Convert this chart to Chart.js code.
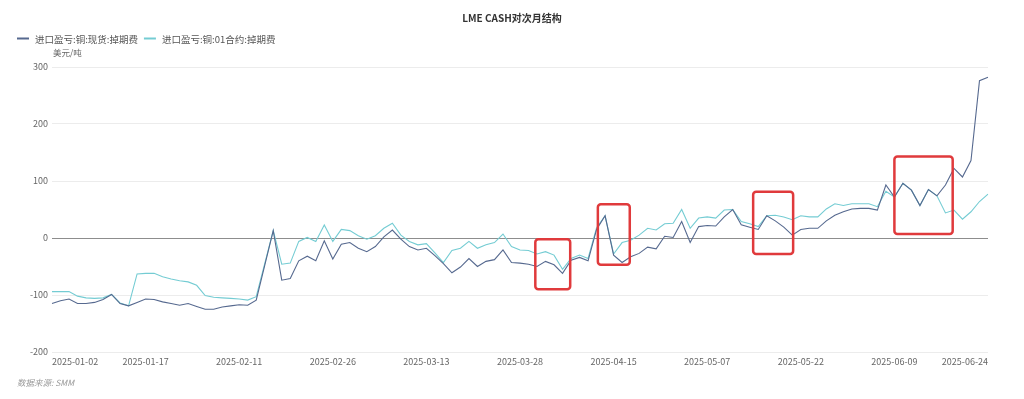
<!DOCTYPE html>
<html lang="zh">
  <head>
    <meta charset="utf-8" />
    <title>LME CASH对次月结构</title>
    <style>
      * {
        margin: 0;
        padding: 0;
      }
      body {
        background: #fff;
      }
      .chartBox {
        width: 1024px;
        height: 399px;
      }
    </style>
  </head>
  <body>
    <div class="chartBox">
      <canvas id="myChart"></canvas>
    </div>

    <script src="https://cdn.jsdelivr.net/npm/chart.js@4.4.1/dist/chart.umd.min.js"></script>

    <script>
      // data block
      const dates = [
        "2025-01-02", "2025-01-03", "2025-01-06", "2025-01-07", "2025-01-08", "2025-01-09", "2025-01-10",
        "2025-01-13", "2025-01-14", "2025-01-15", "2025-01-16", "2025-01-17", "2025-01-20", "2025-01-21",
        "2025-01-22", "2025-01-23", "2025-01-24", "2025-01-27", "2025-02-05", "2025-02-06", "2025-02-07",
        "2025-02-10", "2025-02-11", "2025-02-12", "2025-02-13", "2025-02-14", "2025-02-17", "2025-02-18",
        "2025-02-19", "2025-02-20", "2025-02-21", "2025-02-24", "2025-02-25", "2025-02-26", "2025-02-27",
        "2025-02-28", "2025-03-03", "2025-03-04", "2025-03-05", "2025-03-06", "2025-03-07", "2025-03-10",
        "2025-03-11", "2025-03-12", "2025-03-13", "2025-03-14", "2025-03-17", "2025-03-18", "2025-03-19",
        "2025-03-20", "2025-03-21", "2025-03-24", "2025-03-25", "2025-03-26", "2025-03-27", "2025-03-28",
        "2025-03-31", "2025-04-01", "2025-04-02", "2025-04-03", "2025-04-07", "2025-04-08", "2025-04-09",
        "2025-04-10", "2025-04-11", "2025-04-14", "2025-04-15", "2025-04-16", "2025-04-17", "2025-04-22",
        "2025-04-23", "2025-04-24", "2025-04-25", "2025-04-28", "2025-04-29", "2025-04-30", "2025-05-06",
        "2025-05-07", "2025-05-08", "2025-05-09", "2025-05-12", "2025-05-13", "2025-05-14", "2025-05-15",
        "2025-05-16", "2025-05-19", "2025-05-20", "2025-05-21", "2025-05-22", "2025-05-23", "2025-05-26",
        "2025-05-27", "2025-05-28", "2025-05-29", "2025-05-30", "2025-06-03", "2025-06-04", "2025-06-05",
        "2025-06-06", "2025-06-09", "2025-06-10", "2025-06-11", "2025-06-12", "2025-06-13", "2025-06-16",
        "2025-06-17", "2025-06-18", "2025-06-19", "2025-06-20", "2025-06-23", "2025-06-24",
      ];

      // 进口盈亏:铜:现货:掉期费
      const spotSwap = [
        -115, -110, -107, -115, -115, -113, -108, -99, -115, -119, -113, -107, -108, -112, -115, -118,
        -115, -120, -125, -125, -121, -119, -117, -118, -109, -48, 13, -74, -71, -40, -32, -40,
        -5, -37, -11, -8, -18, -24, -15, 2, 14, -2, -15, -21, -18, -31, -45, -61,
        -51, -36, -50, -41, -38, -21, -43, -44, -46, -50, -41, -47, -62, -39, -34, -40,
        15, 39, -30, -43, -33, -27, -16, -19, 3, 1, 29, -8, 20, 22, 21, 37,
        50, 23, 19, 15, 39, 30, 19, 5, 15, 17, 17, 30, 40, 46, 51, 52,
        52, 49, 93, 72, 96, 84, 57, 85, 74, 93, 122, 107, 136, 276, 282,
      ];

      // 进口盈亏:铜:01合约:掉期费
      const m01Swap = [
        -94, -94, -94, -102, -105, -106, -105, -99, -114, -119, -63, -62, -62, -68, -72, -75,
        -77, -83, -101, -104, -105, -106, -107, -109, -103, -45, 13, -46, -44, -6, 1, -6,
        23, -6, 15, 13, 4, -2, 4, 17, 26, 5, -6, -12, -10, -26, -43, -22,
        -18, -6, -18, -12, -8, 7, -15, -21, -22, -28, -24, -30, -55, -36, -30, -36,
        18, 39, -28, -8, -4, 5, 17, 14, 25, 26, 50, 17, 35, 37, 35, 49,
        50, 29, 25, 20, 39, 40, 37, 32, 39, 37, 37, 51, 60, 57, 60, 60,
        60, 55, 82, 72, 96, 84, 57, 85, 74, 44, 49, 33, 46, 64, 77,
      ];

      const seriesNames = ["进口盈亏:铜:现货:掉期费", "进口盈亏:铜:01合约:掉期费"];
      const seriesColors = ["#56698f", "#74ccd3"];

      // highlighted periods: [fromIndex, toIndex, topValue, bottomValue]
      const highlights = [
        [56.8, 60.9, -2, -90],
        [64.15, 67.9, 59, -47],
        [82.4, 87.1, 81, -28],
        [99.0, 105.85, 143, 7],
      ];

      const labelStep = 11;
      const fontFamily = "'Noto Sans CJK SC', 'Noto Sans', sans-serif";

      // overlay: title, legend, unit, x labels, source, red boxes
      const overlay = {
        id: "overlay",
        afterDraw(chart) {
          const { ctx, chartArea, scales } = chart;
          const x = scales.x;
          const y = scales.y;
          ctx.save();

          // title
          ctx.fillStyle = "#333";
          ctx.font = "bold 10px " + fontFamily;
          ctx.textAlign = "center";
          ctx.textBaseline = "middle";
          ctx.fillText("LME CASH对次月结构", 512, 18);

          // legend
          ctx.font = "9.5px " + fontFamily;
          ctx.textAlign = "left";
          let lx = 17;
          seriesNames.forEach((name, i) => {
            ctx.strokeStyle = seriesColors[i];
            ctx.lineWidth = 2;
            ctx.beginPath();
            ctx.moveTo(lx, 38.5);
            ctx.lineTo(lx + 12, 38.5);
            ctx.stroke();
            ctx.fillStyle = "#555";
            ctx.fillText(name, lx + 18, 39);
            lx += 18 + ctx.measureText(name).width + 6;
          });

          // unit
          ctx.font = "8.5px " + fontFamily;
          ctx.fillStyle = "#666";
          ctx.fillText("美元/吨", 53, 53);

          // x labels
          ctx.font = "9px " + fontFamily;
          ctx.fillStyle = "#666";
          for (let i = 0; i < dates.length; i += labelStep) {
            const px = x.getPixelForValue(i);
            ctx.textAlign = i === 0 ? "left" : i === dates.length - 1 ? "right" : "center";
            ctx.fillText(dates[i], px, chartArea.bottom + 10);
          }

          // source
          ctx.font = "italic 8.5px " + fontFamily;
          ctx.fillStyle = "#999";
          ctx.textAlign = "left";
          ctx.fillText("数据来源: SMM", 17, 383);

          // red boxes
          ctx.strokeStyle = "#e03a3c";
          ctx.lineWidth = 2.5;
          highlights.forEach((h) => {
            const x0 = x.getPixelForValue(h[0]);
            const x1 = x.getPixelForValue(h[1]);
            const y0 = y.getPixelForValue(h[2]);
            const y1 = y.getPixelForValue(h[3]);
            ctx.beginPath();
            ctx.roundRect(x0, y0, x1 - x0, y1 - y0, 3);
            ctx.stroke();
          });

          ctx.restore();
        },
      };

      // config block
      const config = {
        type: "line",
        data: {
          labels: dates,
          datasets: [
            {
              label: seriesNames[0],
              data: spotSwap,
              borderColor: seriesColors[0],
              borderWidth: 1.1,
              pointRadius: 0,
              tension: 0,
            },
            {
              label: seriesNames[1],
              data: m01Swap,
              borderColor: seriesColors[1],
              borderWidth: 1.1,
              pointRadius: 0,
              tension: 0,
            },
          ],
        },
        options: {
          responsive: true,
          maintainAspectRatio: false,
          animation: false,
          devicePixelRatio: 1,
          layout: {
            padding: { left: 18, right: 36, top: 67, bottom: 0 },
          },
          plugins: {
            legend: { display: false },
            title: { display: false },
            tooltip: { enabled: false },
          },
          scales: {
            x: {
              type: "category",
              offset: false,
              grid: { display: false },
              border: { display: false },
              ticks: { display: false },
              afterFit(scale) {
                scale.height = 47;
              },
            },
            y: {
              min: -200,
              max: 300,
              border: { display: false },
              grid: {
                drawTicks: false,
                color: (c) => (c.tick && c.tick.value === 0 ? "#8d8d8d" : "#ececec"),
              },
              ticks: {
                stepSize: 100,
                padding: 4,
                color: "#666",
                font: { family: fontFamily, size: 9 },
              },
              afterFit(scale) {
                scale.width = 34;
              },
            },
          },
        },
        plugins: [overlay],
      };

      // init render block
      const ctx = document.getElementById("myChart");
      const myChart = new Chart(ctx, config);
    </script>
  </body>
</html>
